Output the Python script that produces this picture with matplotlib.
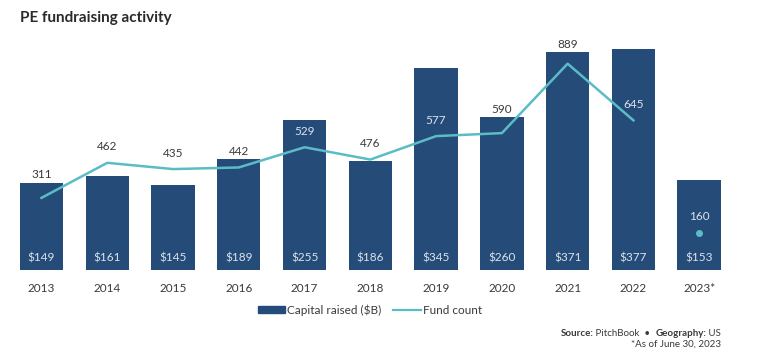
import matplotlib.pyplot as plt
from matplotlib.patches import Patch
from matplotlib.lines import Line2D

years = ["2013", "2014", "2015", "2016", "2017", "2018", "2019", "2020", "2021", "2022", "2023*"]
capital = [149, 161, 145, 189, 255, 186, 345, 260, 371, 377, 153]
fund_count = [311, 462, 435, 442, 529, 476, 577, 590, 889, 645, 160]

NAVY = "#254c79"
TEAL = "#5bbcc6"
TXT = "#3a3a3a"
LIGHT = "#dbe3ec"

plt.rcParams['font.family'] = ['Lato', 'DejaVu Sans']
FS = 8.5

fig = plt.figure(figsize=(7.68, 3.62), dpi=100)
ax = fig.add_axes([0.0112, 0.254, 0.942, 0.663])
x = list(range(len(years)))
ax.bar(x, capital, width=0.66, color=NAVY, zorder=2)
ax.set_xlim(-0.5, 10.5)
ax.set_ylim(0, 409)
for s in ax.spines.values():
    s.set_visible(False)
ax.set_yticks([])
ax.set_xticks(x)
ax.set_xticklabels(years, fontsize=FS, color=TXT)
ax.tick_params(axis='x', length=0, pad=9)
for xi, v in zip(x, capital):
    ax.text(xi, 20, f"${v}", ha='center', va='center', color=LIGHT, fontsize=FS, zorder=4)

ax2 = ax.twinx()
ax2.set_ylim(0, 1034)
ax2.set_yticks([])
for s in ax2.spines.values():
    s.set_visible(False)
ax2.plot(x[:10], fund_count[:10], color=TEAL, lw=1.8, zorder=3)
ax2.plot([x[10]], [fund_count[10]], 'o', color=TEAL, ms=4, zorder=3)

px_cap = 0.663 * 362 / 409
px_cnt = 0.663 * 362 / 1034
for xi, v in zip(x, fund_count):
    pt_y = v * px_cnt
    bar_top = capital[xi] * px_cap
    lab_center = pt_y + 16
    if xi < 10 and abs(lab_center - bar_top) < 8:
        lab_center = bar_top + 8
    inside = lab_center < bar_top
    ax2.annotate(str(v), (xi, v), xytext=(0, (lab_center - pt_y) * 72 / 100),
                 textcoords='offset points', ha='center', va='center', fontsize=FS,
                 color=LIGHT if inside else TXT, zorder=5)

fig.text(20/768, 1 - 18/362, "PE fundraising activity", fontsize=11, fontweight='bold',
         color="#2a2a2a", va='center', ha='left')

handles = [Patch(color=NAVY, label="Capital raised ($B)"),
           Line2D([0], [0], color=TEAL, lw=1.6, label="Fund count")]
fig.legend(handles=handles, loc='center', bbox_to_anchor=(370/768, 1 - 310/362), ncol=2,
           frameon=False, fontsize=FS, handlelength=2.3, handleheight=0.55,
           columnspacing=1.0, handletextpad=0.2, labelcolor=TXT)

pieces = [("Source:", 'bold'), (" PitchBook  •  ", 'normal'), ("Geography:", 'bold'), (" US", 'normal')]
fig.canvas.draw()
r = fig.canvas.get_renderer()
texts = []
for s, w in pieces:
    t = fig.text(0, 1 - 333/362, s, fontsize=7, fontweight=w, color=TXT, ha='left', va='center')
    texts.append(t)
widths = [t.get_window_extent(renderer=r).width for t in texts]
xpos = 721 - sum(widths)
for t, w in zip(texts, widths):
    t.set_x(xpos / 768)
    xpos += w
fig.text(721/768, 1 - 344/362, "*As of June 30, 2023", fontsize=7, color=TXT, ha='right', va='center')

fig.savefig("out.png", dpi=100)
